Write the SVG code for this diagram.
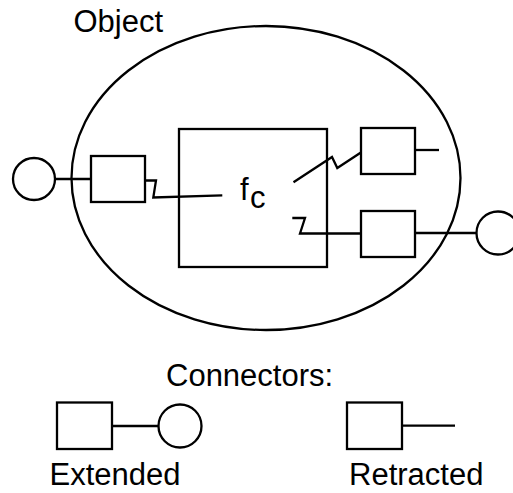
<svg xmlns="http://www.w3.org/2000/svg" width="513" height="493" viewBox="0 0 513 493">
<style>
.s{fill:none;stroke:#000;stroke-width:2.3}
.t{font-family:"Liberation Sans",Arial,sans-serif;font-size:31px;fill:#000}
</style>
<rect width="513" height="493" fill="#fff"/>
<g id="object">
<ellipse class="s" cx="266" cy="178" rx="194.5" ry="152"/>
<text class="t" x="73.5" y="32">Object</text>
</g>
<g id="fc">
<rect class="s" x="179" y="129" width="148" height="138"/>
<text class="t" x="240" y="200">f</text>
<text class="t" x="250" y="208">c</text>
</g>
<g id="port-left">
<circle class="s" cx="34" cy="179" r="21"/>
<rect class="s" x="91" y="156" width="54" height="46"/>
</g>
<g id="port-right-top">
<rect class="s" x="361" y="128" width="54" height="46"/>
</g>
<g id="port-right-bottom">
<rect class="s" x="361" y="211" width="54" height="46"/>
<circle class="s" cx="498" cy="233" r="21.5"/>
</g>
<g id="connectors">
<line class="s" x1="55" y1="179" x2="91" y2="179"/>
<polyline class="s" points="145,180.5 156,180.5 153.3,197.5 222.3,195.3"/>
<polyline class="s" points="293.5,182.3 332,157 337.3,168 360.5,152.7"/>
<line class="s" x1="415" y1="150" x2="439" y2="150"/>
<polyline class="s" points="292.3,218 305,218 300,233.5 361,233.5"/>
<line class="s" x1="415" y1="233" x2="476.5" y2="233"/>
</g>
<g id="legend">
<text class="t" x="166" y="386">Connectors:</text>
<rect class="s" x="57" y="402.5" width="55" height="46.5"/>
<line class="s" x1="112" y1="426" x2="158.3" y2="426"/>
<circle class="s" cx="180" cy="426" r="21.5"/>
<text class="t" x="49.5" y="485">Extended</text>
<rect class="s" x="347" y="402.5" width="55" height="46.5"/>
<line class="s" x1="402" y1="425.7" x2="455" y2="425.7"/>
<text class="t" x="349" y="485">Retracted</text>
</g>
</svg>
